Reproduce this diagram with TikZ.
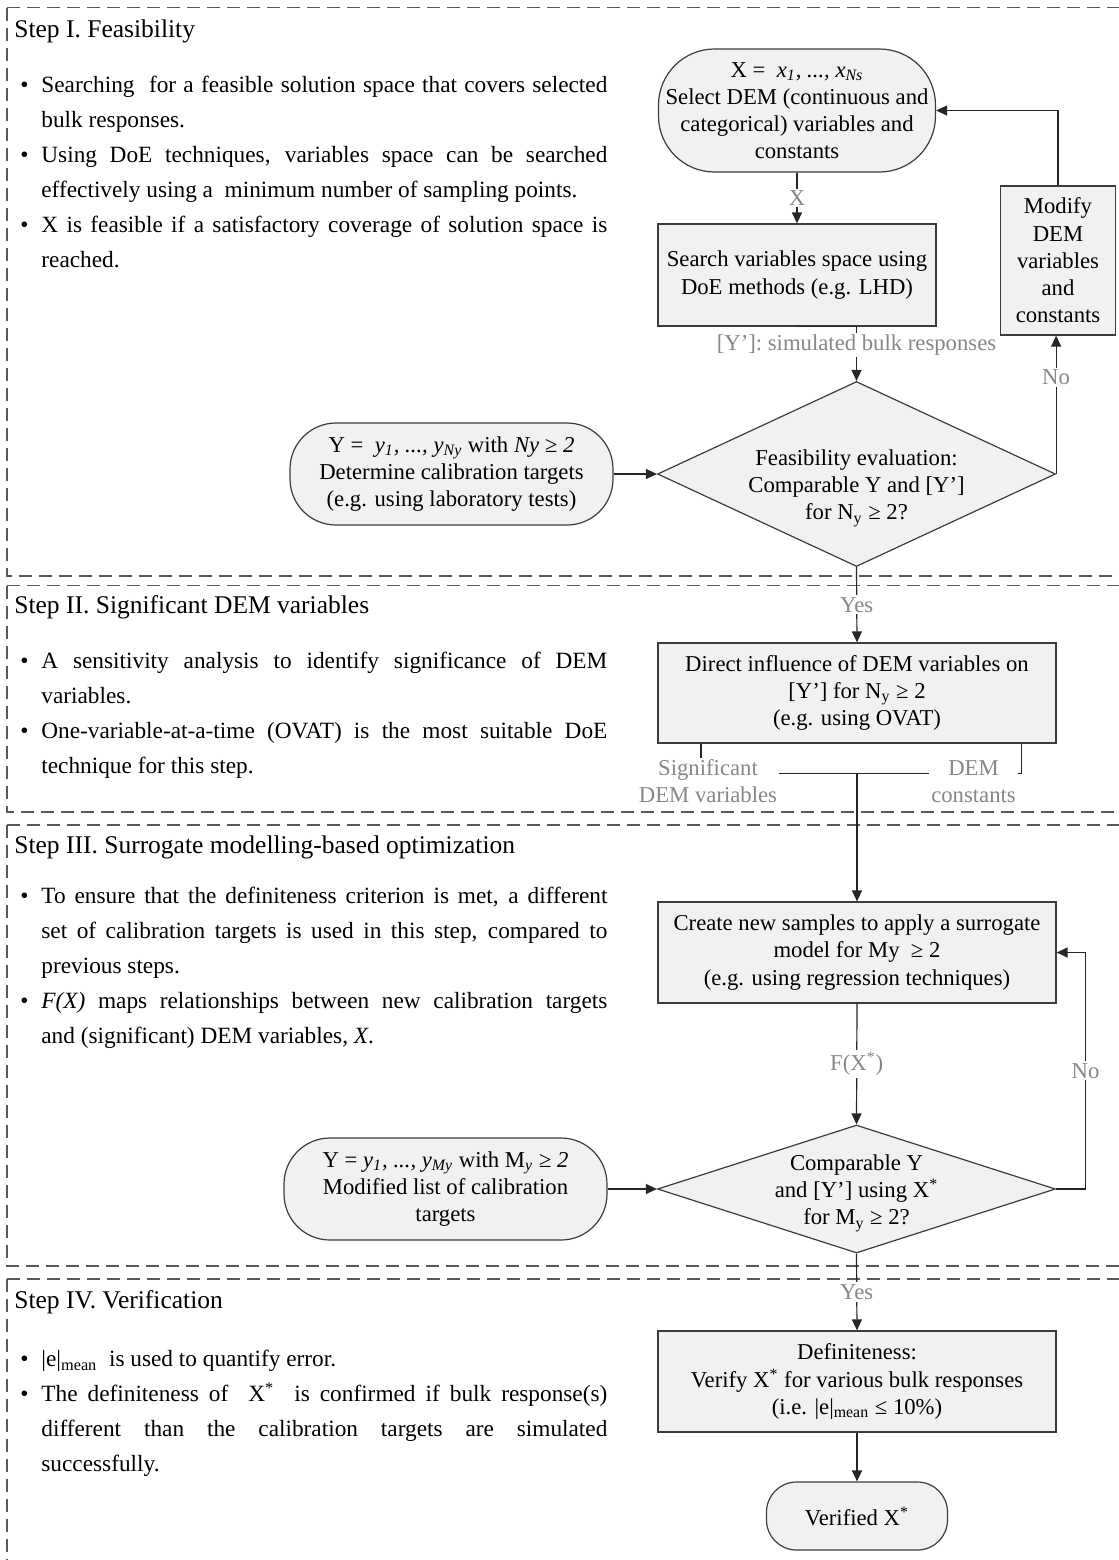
\documentclass[tikz,border=0pt]{standalone}
\usepackage{fontspec}
\setmainfont{Liberation Serif}
\usetikzlibrary{arrows.meta,calc,shapes.geometric}

\definecolor{boxfill}{RGB}{240,241,243}
\definecolor{boxline}{RGB}{60,60,60}
\definecolor{lblgray}{RGB}{135,135,135}
\definecolor{panelline}{RGB}{90,90,90}

\newcommand{\ftext}{\fontsize{11.35pt}{13.6pt}\selectfont}
\newcommand{\btext}{\fontsize{11.65pt}{17.5pt}\selectfont}
\newcommand{\ttext}{\fontsize{12.75pt}{15pt}\selectfont}
\newcommand{\bitem}{\par\noindent\hangindent=10.5pt\hangafter=1\makebox[10.5pt][l]{\textbullet}\rule{0pt}{12pt}}
\hyphenpenalty=10000
\exhyphenpenalty=10000
\tolerance=10000

\begin{document}
\begin{tikzpicture}[x=0.5pt,y=-0.5pt,>={Triangle[length=5.5pt,width=5pt]},
	box/.style={draw=boxline,fill=boxfill,line width=.6pt,align=center,font=\ftext,inner sep=2pt},
	term/.style={box,rounded corners=#1},
	dec/.style={box,diamond,minimum width=199pt,minimum height=#1,inner sep=0pt},
	lbl/.style={fill=white,text=lblgray,font=\ftext,inner sep=1pt,align=center},
	conn/.style={draw=black!85,line width=.6pt},
	panel/.style={draw=panelline,line width=.7pt,dash pattern=on 6.5pt off 3.5pt},
	steptitle/.style={anchor=base west,font=\ttext,inner sep=0pt},
	stepbody/.style={anchor=north west,text width=293.5pt,align=justify,font=\btext,inner sep=0pt}]
	\useasboundingbox (0,0) rectangle (1119,1560);
	
	% dashed step panels
	\draw[panel] (7,7.5) -- (1130,7.5);
	\draw[panel] (7,7.5) -- (7,576) -- (1130,576);
	\draw[panel] (7,585.5) -- (1130,585.5);
	\draw[panel] (7,585.5) -- (7,812) -- (1130,812);
	\draw[panel] (7,825) -- (1130,825);
	\draw[panel] (7,825) -- (7,1266) -- (1130,1266);
	\draw[panel] (7,1279) -- (1130,1279);
	\draw[panel] (7,1279) -- (7,1575);
	
	% step texts
	\node[steptitle] (t1) at (14,37) {Step I. Feasibility};
	\node[stepbody] (b1) at (20,57.5) {\bitem Searching\ \ for a feasible solution space that covers selected\linebreak bulk responses.
		\bitem Using DoE techniques, variables space can be searched\linebreak effectively using a\ \ minimum number of sampling points.
		\bitem X is feasible if a satisfactory coverage of solution space is\linebreak reached.\par};
	\node[steptitle] (t2) at (14,613.3) {Step II. Significant DEM variables};
	\node[stepbody] (b2) at (20,632.7) {\bitem A sensitivity analysis to identify significance of DEM\linebreak variables.
		\bitem One-variable-at-a-time (OVAT) is the most suitable DoE\linebreak technique for this step.\par};
	\node[steptitle] (t3) at (14,853.5) {Step III. Surrogate modelling-based optimization};
	\node[stepbody] (b3) at (20,868) {\bitem To ensure that the definiteness criterion is met, a different\linebreak set of calibration targets is used in this step, compared to\linebreak previous steps.
		\bitem \textit{F(X)} maps relationships between new calibration targets\linebreak and (significant) DEM variables, \textit{X}.\par};
	\node[steptitle] (t4) at (14,1308) {Step IV. Verification};
	\node[stepbody] (b4) at (20,1331.5) {\bitem |e|\textsubscript{mean}\ \ is used to quantify error.
		\bitem The definiteness of\ \ X\textsuperscript{*}\ \ is confirmed if bulk response(s)\linebreak different than the calibration targets are simulated\linebreak successfully.\par};
	
	% flowchart
	\node[term=28pt,minimum width=138.5pt,minimum height=61.5pt] (sel) at (797,110.5) {X =\ \ \textit{x\textsubscript{1}, ..., x\textsubscript{Ns}}\\Select DEM (continuous and\\categorical) variables and\\constants};
	\node[box,minimum width=139pt,minimum height=51pt] (srch) at (797,275) {Search variables space using\\DoE methods (e.g. LHD)};
	\node[box,minimum width=57.5pt,minimum height=74.5pt] (modi) at (1058,260.5) {Modify\\DEM\\variables\\and\\constants};
	\node[dec=92.5pt] (feas) at (856.5,474) {};
	\node[font=\ftext,align=center] (feas-t) at ($(feas)+(0,14)$) {Feasibility evaluation:\\Comparable Y and [Y’]\\for N\textsubscript{y} ≥ 2?};
	\node[term=23pt,minimum width=161.5pt,minimum height=51pt] (ytar) at (451.5,474) {Y =\ \ \textit{y\textsubscript{1}, ..., y\textsubscript{Ny}} with \textit{Ny ≥ 2}\\Determine calibration targets\\(e.g. using laboratory tests)};
	\node[box,minimum width=199pt,minimum height=50pt] (dir) at (857,693) {Direct influence of DEM variables on\\{}[Y’] for N\textsubscript{y} ≥ 2\\(e.g. using OVAT)};
	\node[box,minimum width=199pt,minimum height=50.5pt] (crt) at (857,952.5) {Create new samples to apply a surrogate\\model for My\ \ ≥ 2\\(e.g. using regression techniques)};
	\node[dec=64pt] (cmp) at (856.5,1189) {};
	\node[font=\ftext,align=center] (cmp-t) at ($(cmp)+(0,4)$) {Comparable Y\\and [Y’] using X\textsuperscript{*}\\for M\textsubscript{y} ≥ 2?};
	\node[term=23pt,minimum width=161.5pt,minimum height=51pt] (ytar2) at (445.5,1189) {Y = \textit{y\textsubscript{1}, ..., y\textsubscript{My}} with M\textsubscript{\textit{y}} \textit{≥ 2}\\Modified list of calibration\\targets};
	\node[box,minimum width=199pt,minimum height=50.5pt] (dfn) at (857,1381.5) {Definiteness:\\Verify X\textsuperscript{*} for various bulk responses\\(i.e. |e|\textsubscript{mean} ≤ 10\%)};
	\node[term=15pt,minimum width=90.5pt,minimum height=34pt] (vrf) at (857,1516) {Verified X\textsuperscript{*}};
	
	% connectors
	\draw[conn,->] (sel.south) -- node[lbl] {X} (srch.north);
	\draw[conn,->] (srch.south) -- (srch.south -| feas.north) -- node[lbl,pos=.34] {[Y’]: simulated bulk responses} (feas.north);
	\draw[conn,->] (ytar.east) -- (feas.west);
	\draw[conn,->] (feas.east) -- node[lbl,pos=.7] {No} (feas.east |- modi.south);
	\draw[conn,->] (modi.north) |- (sel.east);
	\draw[conn,->] (feas.south) -- node[lbl] {Yes} (dir.north);
	\draw[conn] ($(dir.south west)+(43.5,0)$) -- ++(0,30) -- ($(dir.south east)+(-35,30)$) -- ($(dir.south east)+(-35,0)$);
	\coordinate (jn) at ($(dir.south)+(0,30)$);
	\node[lbl] (sigv) at (708,781.5) {Significant\\DEM variables};
	\node[lbl] (demc) at (973.5,781.5) {DEM\\constants};
	\draw[conn,->] (jn) -- (crt.north);
	\draw[conn,->] (crt.south) -- node[lbl] {F(X\textsuperscript{*})} (cmp.north);
	\draw[conn,->] (cmp.east) -- ++(29.5,0) |- node[lbl,pos=.25] {No} (crt.east);
	\draw[conn,->] (ytar2.east) -- (cmp.west);
	\draw[conn,->] (cmp.south) -- node[lbl] {Yes} (dfn.north);
	\draw[conn,->] (dfn.south) -- (vrf.north);
\end{tikzpicture}
\end{document}
